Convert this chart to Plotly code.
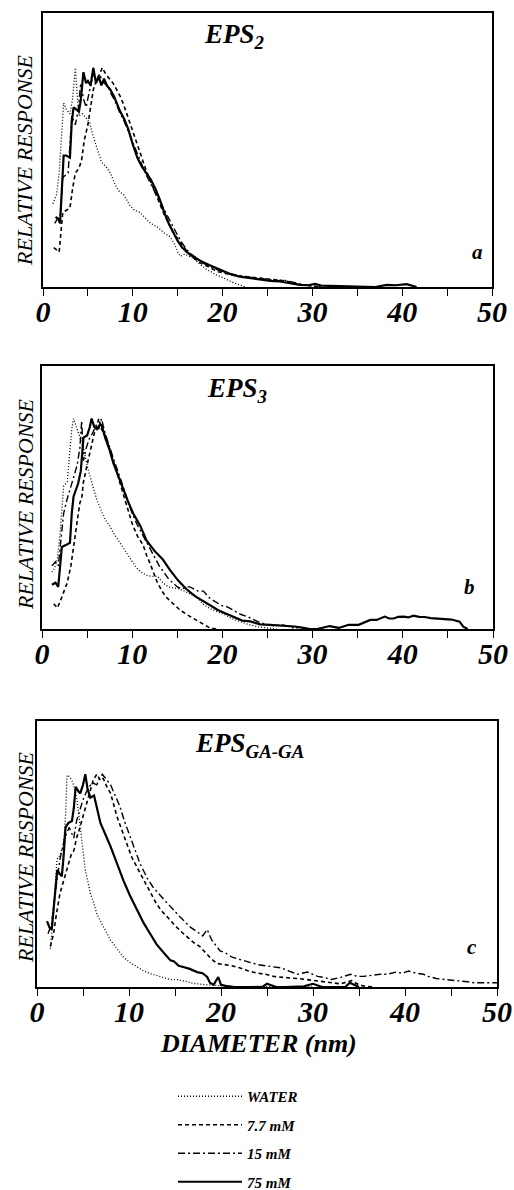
import plotly.graph_objects as go

W, H = 514, 1190

# ---------------- data ----------------
SERIES = ["WATER", "7.7 mM", "15 mM", "75 mM"]
X_TICKS = [0, 10, 20, 30, 40, 50]
TITLES = ["EPS<sub>2</sub>", "EPS<sub>3</sub>", "EPS<sub>GA-GA</sub>"]
LETTERS = ["a", "b", "c"]

# panel a  (EPS2)
A_WATER_X = [1.1,1.5,1.8,2.1,2.3,2.6,3.0,3.3,3.6,3.8,4.0,4.4,4.8,5.2,5.5,6.0,6.5,7.0,7.5,8.0,8.4,9.0,9.7,10.2,10.8,11.5,12.0,12.7,13.4,14.1,14.6,15.0,15.3,15.8,16.3,16.8,17.3,17.8,18.2,18.7,19.3,19.9,20.5,21.2,21.9,22.5]
A_WATER_Y = [0.38,0.42,0.52,0.70,0.84,0.81,0.79,0.86,1.0,0.88,0.78,0.79,0.77,0.75,0.70,0.63,0.57,0.55,0.52,0.47,0.44,0.42,0.37,0.35,0.34,0.31,0.29,0.275,0.25,0.23,0.20,0.16,0.14,0.15,0.14,0.13,0.11,0.095,0.08,0.07,0.055,0.045,0.033,0.02,0.01,0.0]
A_77_X = [1.2,1.5,1.8,2.0,2.2,2.6,3.0,3.3,3.6,4.0,4.3,4.6,5.0,5.3,5.6,6.0,6.3,6.6,7.0,7.4,7.8,8.2,8.6,9.0,9.5,10,10.5,11,11.5,12,12.5,13,13.5,14,14.5,15,15.5,16,16.5,17,17.5,18,18.5,19,19.5,20,21,22,23,24,25,26,27,28,29,30,31]
A_77_Y = [0.18,0.17,0.16,0.25,0.34,0.35,0.36,0.45,0.52,0.54,0.58,0.67,0.74,0.82,0.90,0.95,0.97,1.0,0.97,0.95,0.93,0.90,0.87,0.83,0.77,0.71,0.65,0.58,0.53,0.48,0.43,0.38,0.33,0.29,0.25,0.22,0.19,0.165,0.14,0.125,0.11,0.10,0.09,0.08,0.07,0.065,0.055,0.05,0.045,0.04,0.035,0.03,0.028,0.015,0.008,0.004,0.0]
A_15_X = [1.3,1.6,1.9,2.2,2.5,2.8,3.2,3.6,3.9,4.2,4.5,4.8,5.2,5.6,6.0,6.4,6.8,7.2,7.6,8.0,8.5,9,9.5,10,10.5,11,11.5,12,12.5,13,13.5,14,14.5,15,15.5,16,16.5,17,17.5,18,19,20,21,22,23,24,25,26,27,28,29,30,31]
A_15_Y = [0.29,0.31,0.32,0.50,0.51,0.52,0.78,0.74,0.80,0.93,0.86,0.82,0.90,0.97,0.94,0.96,0.93,0.92,0.88,0.85,0.80,0.76,0.71,0.66,0.61,0.56,0.51,0.47,0.43,0.39,0.35,0.31,0.27,0.235,0.20,0.17,0.15,0.135,0.12,0.105,0.085,0.07,0.06,0.05,0.045,0.04,0.035,0.03,0.03,0.02,0.01,0.005,0.0]
A_75_X = [1.4,1.7,1.9,2.1,2.3,2.6,3.0,3.2,3.4,3.7,4.0,4.2,4.5,4.8,5.0,5.3,5.6,5.9,6.2,6.5,6.8,7.1,7.5,7.9,8.2,8.6,9.0,9.5,10,10.5,11,11.5,12,12.5,13,13.5,14,14.5,15,15.5,16,16.5,17.5,18.5,19.7,20.8,21.9,23,24.2,25.3,26.4,27.5,28.6,29.5,30.3,31,32,33,35,37,38.3,39.3,40.5,41.6]
A_75_Y = [0.32,0.31,0.29,0.45,0.60,0.60,0.59,0.75,0.82,0.81,0.80,0.85,0.98,0.93,0.94,0.92,1.0,0.93,0.96,0.92,0.95,0.92,0.90,0.87,0.84,0.80,0.77,0.72,0.65,0.59,0.55,0.52,0.49,0.45,0.40,0.34,0.29,0.25,0.21,0.18,0.16,0.145,0.12,0.10,0.078,0.06,0.047,0.04,0.032,0.028,0.025,0.018,0.01,0.008,0.014,0.006,0.005,0.002,0.0,0.0,0.01,0.008,0.013,0.0]

# panel b  (EPS3)
B_WATER_X = [1.1,1.4,1.7,2.0,2.4,2.8,3.1,3.3,3.5,3.7,3.9,4.3,4.6,5.1,5.6,6.1,6.5,7.0,7.5,8.0,8.5,9.0,9.4,10.0,10.5,11.0,11.6,12.2,12.8,13.4,14.0,14.6,15.2,15.8,16.5,17.2,17.8,18.5,19.3,20.2,21.0,22.0,23.0,24.0,25.0,26.0]
B_WATER_Y = [0.27,0.29,0.33,0.45,0.68,0.70,0.85,0.95,1.0,0.97,0.95,0.90,0.86,0.76,0.68,0.61,0.57,0.52,0.49,0.45,0.42,0.39,0.36,0.32,0.29,0.27,0.255,0.25,0.25,0.22,0.20,0.195,0.19,0.18,0.165,0.15,0.12,0.10,0.085,0.07,0.05,0.035,0.02,0.01,0.005,0.0]
B_77_X = [1.3,1.7,2.0,2.4,2.8,3.2,3.6,4.0,4.2,4.4,4.6,5.0,5.4,5.8,6.1,6.3,6.6,7.0,7.4,7.8,8.2,8.6,9.0,9.5,10.0,10.6,11.2,11.6,12.0,12.7,13.3,13.8,14.5,15.3,16.2,17.1,17.9,18.6,19.3]
B_77_Y = [0.12,0.10,0.13,0.18,0.22,0.30,0.42,0.55,0.60,0.62,0.70,0.78,0.86,0.93,0.97,1.0,0.95,0.92,0.87,0.82,0.76,0.70,0.64,0.57,0.50,0.44,0.40,0.35,0.31,0.23,0.18,0.15,0.12,0.09,0.065,0.043,0.02,0.005,0.0]
B_15_X = [1.1,1.5,1.8,2.1,2.4,2.8,3.1,3.5,3.9,4.2,4.4,4.6,4.9,5.2,5.6,6.0,6.3,6.6,7.0,7.5,8.0,8.5,9.0,9.5,10.0,10.5,11.0,11.5,12.0,12.5,13.0,13.5,14.0,14.5,15.0,15.5,16.0,16.4,16.8,17.3,17.9,18.5,19.2,20.0,20.5,21.2,22.0,22.7,23.4,24.2,25.0,25.8,26.6,27.5,28.3]
B_15_Y = [0.30,0.32,0.30,0.42,0.55,0.62,0.66,0.72,0.78,0.86,0.99,0.80,0.86,0.90,0.93,0.97,0.95,1.0,0.93,0.86,0.80,0.74,0.67,0.61,0.55,0.50,0.46,0.42,0.38,0.34,0.30,0.27,0.24,0.22,0.20,0.19,0.20,0.20,0.19,0.18,0.18,0.15,0.13,0.11,0.106,0.09,0.07,0.06,0.045,0.03,0.02,0.015,0.02,0.008,0.0]
B_75_X = [1.1,1.5,1.8,2.0,2.2,2.7,3.1,3.3,3.5,4.0,4.3,4.6,5.0,5.3,5.5,5.8,6.1,6.4,6.6,7.0,7.5,7.9,8.5,9.0,9.5,10.1,10.9,11.6,12.5,13.4,14.2,15.1,16.0,17.0,18.3,19.5,20.3,21.2,22.2,23.1,24.2,25.3,26.2,27.0,28.0,29.0,29.7,30.5,31.2,31.9,32.9,34.0,35.1,36.4,37.1,37.6,38.0,38.5,39.0,39.5,40.1,40.6,41.2,41.8,42.4,43.1,43.9,44.6,45.4,46.3,46.7,47.2]
B_75_Y = [0.21,0.22,0.20,0.30,0.39,0.40,0.41,0.55,0.63,0.69,0.75,0.91,0.92,0.96,1.0,0.96,0.95,0.97,0.97,0.91,0.85,0.79,0.72,0.66,0.61,0.55,0.49,0.42,0.37,0.33,0.28,0.23,0.19,0.155,0.12,0.09,0.075,0.057,0.04,0.036,0.022,0.02,0.018,0.015,0.012,0.005,0.0,0.0,0.008,0.014,0.005,0.02,0.02,0.043,0.043,0.05,0.059,0.05,0.05,0.058,0.059,0.055,0.063,0.058,0.057,0.052,0.05,0.048,0.045,0.035,0.011,0.0]

# panel c  (EPS GA-GA)
C_WATER_X = [1.45,1.8,2.17,2.5,2.9,3.1,3.26,3.5,3.8,4.1,4.35,4.7,5.0,5.25,5.5,5.8,6.2,6.5,7.0,7.5,8.0,8.7,9.4,10.1,10.9,11.6,12.3,13.0,13.7,14.5,15.3,16.2,17.0,18.0,19.2,20.5,22.0,24,26,28,30]
C_WATER_Y = [0.18,0.35,0.60,0.62,0.67,0.80,0.995,0.99,0.97,0.93,0.88,0.75,0.64,0.55,0.50,0.44,0.39,0.345,0.30,0.26,0.22,0.18,0.14,0.115,0.094,0.075,0.063,0.055,0.045,0.035,0.035,0.025,0.017,0.012,0.008,0.005,0.0,0.004,0.0,0.002,0.0]
C_77_X = [1.45,1.8,2.1,2.5,2.9,3.3,3.7,4.0,4.3,4.6,5.0,5.4,5.8,6.1,6.5,6.9,7.2,7.6,8.0,8.4,8.7,9.2,9.8,10.3,10.9,11.5,12.0,12.5,13.0,13.5,14.1,14.7,15.2,15.8,16.3,17.0,17.7,18.3,19.0,19.6,20.3,21.2,22.0,23.0,24.0,24.8,25.7,26.6,27.5,28.4,29.3,30.2,31.1,32.0,33.0,34.2,35.0,35.5,36.5]
C_77_Y = [0.19,0.25,0.34,0.44,0.50,0.56,0.62,0.64,0.70,0.74,0.80,0.86,0.93,0.97,1.0,0.97,0.98,0.94,0.91,0.85,0.80,0.74,0.67,0.61,0.56,0.51,0.47,0.43,0.39,0.36,0.33,0.30,0.28,0.255,0.235,0.21,0.19,0.16,0.13,0.11,0.105,0.10,0.09,0.075,0.065,0.06,0.05,0.045,0.042,0.04,0.035,0.03,0.025,0.02,0.015,0.03,0.01,0.005,0.0]
C_15_X = [1.2,1.6,2.0,2.5,3.0,3.5,3.8,4.0,4.3,4.6,5.0,5.5,6.0,6.5,6.8,7.1,7.5,8.0,8.5,9.0,9.5,10.0,10.5,11.2,12.0,12.6,13.2,14.0,14.6,15.3,16.0,16.7,17.4,18.0,18.5,19.0,19.9,20.5,21.2,22.0,23.0,24.0,24.8,25.6,26.5,27.4,28.3,29.4,30.5,31.2,32.0,33.0,34.1,34.8,35.5,36.4,37.3,38.1,39.0,39.7,40.4,41.2,42.0,42.5,43.4,44.3,45.2,46.1,46.8,47.5,48.3,49.0,49.6,50.0]
C_15_Y = [0.25,0.30,0.45,0.60,0.70,0.75,0.72,0.70,0.78,0.82,0.88,0.93,0.96,0.95,0.98,1.0,0.98,0.95,0.90,0.85,0.78,0.72,0.66,0.58,0.51,0.47,0.44,0.40,0.37,0.34,0.31,0.28,0.26,0.24,0.27,0.22,0.17,0.16,0.14,0.13,0.115,0.105,0.10,0.095,0.09,0.075,0.06,0.07,0.05,0.045,0.035,0.045,0.06,0.05,0.05,0.055,0.06,0.06,0.07,0.065,0.075,0.065,0.06,0.05,0.04,0.035,0.032,0.03,0.025,0.02,0.02,0.02,0.02,0.02]
C_75_X = [1.09,1.35,1.6,1.9,2.2,2.5,2.7,2.9,3.1,3.4,3.8,4.0,4.2,4.5,4.7,5.0,5.25,5.5,5.8,6.2,6.5,6.9,7.4,8.0,8.7,9.4,10.1,10.9,11.6,12.3,13.0,13.8,14.5,14.9,15.4,15.9,16.6,17.4,18.0,18.5,18.8,19.2,19.7,20.0,20.5,21.5,22.5,24.5,25,26,27,29,30,31,32,33.5,34,35]
C_75_Y = [0.31,0.28,0.27,0.40,0.55,0.53,0.52,0.62,0.75,0.77,0.78,0.84,0.94,0.92,0.91,0.95,1.0,0.93,0.89,0.90,0.84,0.77,0.72,0.66,0.58,0.50,0.43,0.36,0.30,0.25,0.20,0.16,0.125,0.12,0.10,0.094,0.085,0.07,0.065,0.047,0.02,0.01,0.047,0.01,0.005,0.0,0.0,0.0,0.015,0.0,0.0,0.003,0.015,0.0,0.0,0.0,0.02,0.0]

# ---------------- styling ----------------
FONT = "Liberation Serif, Times New Roman, serif"
STYLES = {
    "WATER": dict(dash="1px,2px", width=1.3),
    "7.7 mM": dict(dash="4px,3px", width=1.6),
    "15 mM": dict(dash="7px,3px,2px,3px", width=1.4),
    "75 mM": dict(dash="solid", width=2.2),
}

panels = [
    [(A_WATER_X, A_WATER_Y), (A_77_X, A_77_Y), (A_15_X, A_15_Y), (A_75_X, A_75_Y)],
    [(B_WATER_X, B_WATER_Y), (B_77_X, B_77_Y), (B_15_X, B_15_Y), (B_75_X, B_75_Y)],
    [(C_WATER_X, C_WATER_Y), (C_77_X, C_77_Y), (C_15_X, C_15_Y), (C_75_X, C_75_Y)],
]

# panel frames in pixels: (left, right, top, bottom)
FRAMES = [(43, 492, 13, 287), (42, 493, 366, 629), (37, 497, 721, 987)]
YTITLE_CENTERS = [160, 504, 857]

fig = go.Figure()
for p, series in enumerate(panels):
    suffix = "" if p == 0 else str(p + 1)
    for name, (xs, ys) in zip(SERIES, series):
        st = STYLES[name]
        fig.add_trace(go.Scatter(
            x=xs, y=ys, mode="lines", name=name,
            line=dict(color="black", width=st["width"], dash=st["dash"]),
            xaxis="x" + suffix, yaxis="y" + suffix,
            showlegend=(p == 0), legendgroup=name, hoverinfo="skip",
        ))

layout = dict(
    width=W, height=H, margin=dict(l=0, r=0, t=0, b=0, autoexpand=False),
    paper_bgcolor="white", plot_bgcolor="white",
    showlegend=True,
    legend=dict(
        x=173 / W, y=1 - 1080 / H, xanchor="left", yanchor="top",
        font=dict(family=FONT, size=15, style="italic", weight="bold", color="black"),
        traceorder="grouped", tracegroupgap=6, itemwidth=64,
        bgcolor="rgba(0,0,0,0)",
    ),
)
annotations = []
for p, (l, r, t, b) in enumerate(FRAMES):
    suffix = "" if p == 0 else str(p + 1)
    layout["xaxis" + suffix] = dict(
        domain=[l / W, r / W], range=[0, 50], anchor="y" + suffix,
        showgrid=False, zeroline=False, showline=True, mirror=True,
        linecolor="black", linewidth=1.6, automargin=False,
        tickvals=X_TICKS, ticks="outside", ticklen=7, tickwidth=1.4, tickcolor="black",
        minor=dict(dtick=5, tick0=0, ticks="outside", ticklen=7, tickwidth=1.4, tickcolor="black"),
        tickfont=dict(family=FONT, size=30, style="italic", weight="bold", color="black"),
        ticklabelstandoff=-10,
        fixedrange=True,
    )
    layout["yaxis" + suffix] = dict(
        domain=[1 - b / H, 1 - t / H], range=[0, 1.25], anchor="x" + suffix,
        showgrid=False, zeroline=False, showline=True, mirror=True,
        linecolor="black", linewidth=1.6, showticklabels=False, ticks="",
        automargin=False, fixedrange=True,
    )
    # y title
    annotations.append(dict(
        x=25 / W, y=1 - YTITLE_CENTERS[p] / H, xref="paper", yref="paper",
        text="RELATIVE RESPONSE", textangle=-90, showarrow=False,
        font=dict(family=FONT, size=22, style="italic", color="black"),
        xanchor="center", yanchor="middle",
    ))

title_pos = [(202, 36), (205, 390), (193, 745)]
for (tx, ty), txt in zip(title_pos, TITLES):
    annotations.append(dict(
        x=tx / W, y=1 - ty / H, xref="paper", yref="paper", text=txt,
        showarrow=False, xanchor="left", yanchor="middle",
        font=dict(family=FONT, size=27, style="italic", weight="bold", color="black"),
    ))
letter_pos = [(477, 252), (469, 587), (472, 947)]
for (lx, ly), txt in zip(letter_pos, LETTERS):
    annotations.append(dict(
        x=lx / W, y=1 - ly / H, xref="paper", yref="paper", text=txt,
        showarrow=False, xanchor="center", yanchor="middle",
        font=dict(family=FONT, size=21, style="italic", weight="bold", color="black"),
    ))
annotations.append(dict(
    x=258 / W, y=1 - 1043 / H, xref="paper", yref="paper", text="DIAMETER (nm)",
    showarrow=False, xanchor="center", yanchor="middle",
    font=dict(family=FONT, size=26, style="italic", weight="bold", color="black"),
))
layout["annotations"] = annotations
fig.update_layout(**layout)
fig.write_html("out.html", config={"displayModeBar": False},
               post_script="document.body.style.margin='0';")
